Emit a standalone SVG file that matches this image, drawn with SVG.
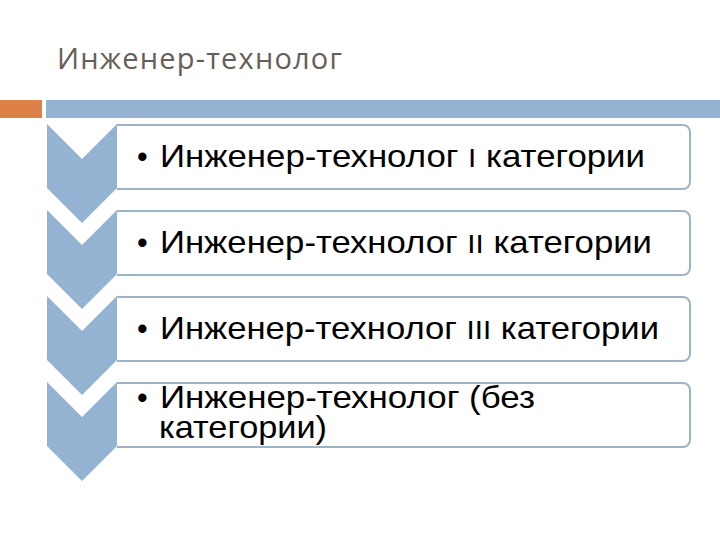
<svg xmlns="http://www.w3.org/2000/svg" width="720" height="540" viewBox="0 0 720 540">
<style>
.title{font-family:"Open Sans","DejaVu Sans",sans-serif;font-size:29px;fill:#675e58}
.item{font-family:"Liberation Sans",Arial,sans-serif;font-size:30.5px;fill:#000}
.num{font-size:26px}
.box{fill:#fff;stroke:#9fb3c7;stroke-width:2}
.chev{fill:#94b3d2}
</style>
<rect width="720" height="540" fill="#fff"/>
<g id="title">
<text class="title" x="57" y="69" textLength="285" lengthAdjust="spacing">Инженер-технолог</text>
</g>
<g id="bars">
<rect x="0" y="100" width="42" height="18" fill="#de8148"/>
<rect x="46" y="100" width="674" height="18" fill="#94b3d2"/>
</g>
<g id="connectors"></g>
<g id="node1">
<path class="box" d="M117,125 H683 A7,7 0 0 1 690,132 V182 A7,7 0 0 1 683,189 H117"/>
<path class="chev" d="M47,124 L82,159 L117,124 L117,188 L82,223 L47,188 Z"/>
<text class="item" x="137" y="167">•</text>
<text class="item" x="160" y="167" textLength="485" lengthAdjust="spacingAndGlyphs">Инженер-технолог <tspan class="num">I</tspan> категории</text>
</g>
<g id="node2">
<path class="box" d="M117,211 H683 A7,7 0 0 1 690,218 V268 A7,7 0 0 1 683,275 H117"/>
<path class="chev" d="M47,210 L82,245 L117,210 L117,274 L82,309 L47,274 Z"/>
<text class="item" x="137" y="253">•</text>
<text class="item" x="160" y="253" textLength="492" lengthAdjust="spacingAndGlyphs">Инженер-технолог <tspan class="num">II</tspan> категории</text>
</g>
<g id="node3">
<path class="box" d="M117,297 H683 A7,7 0 0 1 690,304 V354 A7,7 0 0 1 683,361 H117"/>
<path class="chev" d="M47,296 L82,331 L117,296 L117,360 L82,395 L47,360 Z"/>
<text class="item" x="137" y="339">•</text>
<text class="item" x="160" y="339" textLength="499" lengthAdjust="spacingAndGlyphs">Инженер-технолог <tspan class="num">III</tspan> категории</text>
</g>
<g id="node4">
<path class="box" d="M117,383 H683 A7,7 0 0 1 690,390 V440 A7,7 0 0 1 683,447 H117"/>
<path class="chev" d="M47,382 L82,417 L117,382 L117,446 L82,481 L47,446 Z"/>
<text class="item" x="137" y="408">•</text>
<text class="item"><tspan x="160" y="408" textLength="375" lengthAdjust="spacingAndGlyphs">Инженер-технолог (без</tspan><tspan x="159" y="438" textLength="168" lengthAdjust="spacingAndGlyphs">категории)</tspan></text>
</g>
</svg>
